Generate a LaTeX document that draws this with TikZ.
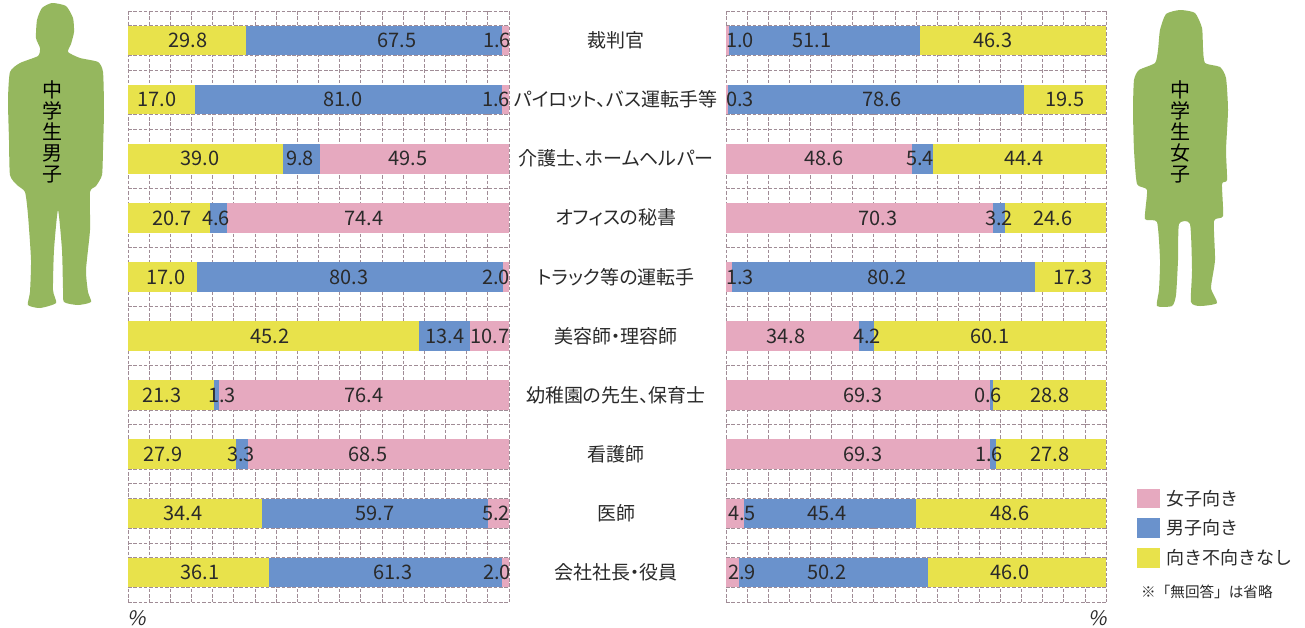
\documentclass[tikz,border=0pt]{standalone}
\usepackage{fontspec}
\setmainfont{Noto Sans CJK JP}
\newfontfamily\pctfont{Noto Sans CJK JP}[FakeSlant=0.2]
\newfontfamily\jobfont{Noto Sans CJK JP}[RawFeature=+palt]
\definecolor{cpink}{HTML}{E6A9BF}
\definecolor{cblue}{HTML}{6A92CC}
\definecolor{cyel}{HTML}{E8E24B}
\definecolor{cgreen}{HTML}{95B75E}
\definecolor{cgrid}{HTML}{A08C96}
\definecolor{ctext}{HTML}{2A2A2A}
\tikzset{
  gridline/.style={draw=cgrid, line width=0.7pt, dash pattern=on 3.5pt off 1.8pt},
  val/.style={font=\fontsize{20}{20}\selectfont, text=ctext, inner sep=0pt, anchor=base},
  job/.style={font=\jobfont\fontsize{19}{19}\selectfont, text=ctext, inner sep=0pt, anchor=base},
  legtext/.style={font=\fontsize{18}{18}\selectfont, text=ctext, inner sep=0pt, anchor=base west},
  vtext/.style={font=\fontsize{20}{21}\selectfont, text=black, inner sep=0pt, align=center},
  silhouette/.style={fill=cgreen, draw=none},
}
\begin{document}
\begin{tikzpicture}[x=1pt,y=-1pt]
\useasboundingbox[fill=white] (0,0) rectangle (1305,627);

% silhouettes
\fill[silhouette] plot[smooth cycle, tension=0.35] coordinates {
 (52,3) (66,6) (73,18) (74,32) (71,44) (68,52) (80,58) (98,62) (103,72) (104,110)
 (103,150) (102,175) (96,186) (90,192) (90,230) (86,270) (88,292) (91,302) (78,305)
 (64,302) (63,288) (62,250) (58,210) (54,250) (53,290) (56,303) (40,308) (28,305)
 (30,292) (31,260) (28,215) (25,192) (17,185) (10,175) (9,140) (8,100) (10,72)
 (20,63) (38,56) (40,48) (36,38) (37,20) (42,8)};
\node[vtext] (boys) at (52,132) {中\\学\\生\\男\\子};

\fill[silhouette] plot[smooth cycle, tension=0.35] coordinates {
 (1180,10) (1195,13) (1202,28) (1203,48) (1205,63) (1220,67) (1226,78) (1228,110)
 (1226,150) (1227,180) (1222,184) (1223,216) (1214,221) (1215,260) (1211,288)
 (1217,303) (1200,306) (1191,302) (1192,270) (1190,224) (1179,224) (1178,260)
 (1176,295) (1172,306) (1157,306) (1159,290) (1160,260) (1157,222) (1145,219)
 (1147,190) (1137,184) (1134,150) (1133,110) (1134,80) (1139,70) (1155,63)
 (1158,50) (1160,30) (1166,14)};
\node[vtext] (girls) at (1180,132) {中\\学\\生\\女\\子};

% grids
\foreach \xo/\w in {128/381, 726/380} {
  \foreach \i in {0,...,18}
    \draw[gridline] ({\xo+\i*\w/18},11) -- ++(0,591);
  \foreach \j in {0,...,40}
    \draw[gridline] (\xo,{11+\j*14.775}) -- ++(\w,0);
}

% left bars (boys): yellow, blue, pink
\foreach \k/\a/\b in {0/246/502,1/195/502,2/283/320,3/210/227,4/197/503,
                      5/419/470,6/214/219,7/236/248,8/262/488,9/269/502} {
  \pgfmathsetmacro{\yt}{11+(4*\k+1)*14.775}
  \pgfmathsetmacro{\yb}{11+(4*\k+3)*14.775}
  \fill[cyel] (128,\yt) rectangle (\a,\yb);
  \fill[cblue] (\a,\yt) rectangle (\b,\yb);
  \fill[cpink] (\b,\yt) rectangle (509,\yb);
}
% right bars (girls): pink, blue, yellow
\foreach \k/\a/\b in {0/729/920,1/727.5/1024,2/912/933,3/993/1005,4/732/1035,
                      5/859/874,6/990/992.5,7/990/996,8/744/916,9/739/928} {
  \pgfmathsetmacro{\yt}{11+(4*\k+1)*14.775}
  \pgfmathsetmacro{\yb}{11+(4*\k+3)*14.775}
  \fill[cpink] (726,\yt) rectangle (\a,\yb);
  \fill[cblue] (\a,\yt) rectangle (\b,\yb);
  \fill[cyel] (\b,\yt) rectangle (1106,\yb);
}

% left values
\foreach \k/\pa/\ta/\pb/\tb/\pc/\tc in {
 0/188/29.8/397/67.5/497/1.6,
 1/157/17.0/343/81.0/496/1.6,
 2/200/39.0/300/9.8/408/49.5,
 3/172/20.7/216/4.6/364/74.4,
 4/166/17.0/349/80.3/496/2.0,
 5/270/45.2/445/13.4/490/10.7,
 6/162/21.3/222/1.3/364/76.4,
 7/163/27.9/241/3.3/368/68.5,
 8/183/34.4/375/59.7/496/5.2,
 9/200/36.1/393/61.3/497/2.0} {
  \pgfmathsetmacro{\yc}{11+(4*\k+2)*14.775+7.2}
  \node[val] (ly\k) at (\pa,\yc) {\ta};
  \node[val] (lb\k) at (\pb,\yc) {\tb};
  \node[val] (lp\k) at (\pc,\yc) {\tc};
}
% right values
\foreach \k/\pa/\ta/\pb/\tb/\pc/\tc in {
 0/740/1.0/812/51.1/993/46.3,
 1/740/0.3/882/78.6/1065/19.5,
 2/824/48.6/920/5.4/1024/44.4,
 3/878/70.3/999/3.2/1053/24.6,
 4/740/1.3/887/80.2/1073/17.3,
 5/786/34.8/867/4.2/990/60.1,
 6/863/69.3/988/0.6/1050/28.8,
 7/863/69.3/989/1.6/1050/27.8,
 8/742/4.5/827/45.4/1010/48.6,
 9/742/2.9/827/50.2/1010/46.0} {
  \pgfmathsetmacro{\yc}{11+(4*\k+2)*14.775+7.2}
  \node[val] (rp\k) at (\pa,\yc) {\ta};
  \node[val] (rb\k) at (\pb,\yc) {\tb};
  \node[val] (ry\k) at (\pc,\yc) {\tc};
}

% job labels
\foreach \k/\t in {0/裁判官, 1/パイロット、バス運転手等, 2/介護士、ホームヘルパー,
  3/オフィスの秘書, 4/トラック等の運転手, 5/美容師・理容師, 6/幼稚園の先生、保育士,
  7/看護師, 8/医師, 9/会社社長・役員} {
  \pgfmathsetmacro{\yc}{11+(4*\k+2)*14.775+7.1}
  \node[job] (job\k) at (616,\yc) {\t};
}

% percent signs
\node[val, font=\pctfont\fontsize{20}{20}\selectfont] (pctl) at (137,625) {\%};
\node[val, font=\pctfont\fontsize{20}{20}\selectfont] (pctr) at (1098,625) {\%};

% legend
\fill[cpink] (1137,489) rectangle (1160,508);
\fill[cblue] (1137,518) rectangle (1160,538);
\fill[cyel] (1137,548) rectangle (1160,568);
\node[legtext] (lg1) at (1166,505) {女子向き};
\node[legtext] (lg2) at (1166,534.5) {男子向き};
\node[legtext] (lg3) at (1166,564.5) {向き不向きなし};
\node[legtext, font=\fontsize{14.6}{15}\selectfont] (lg4) at (1141,597.5) {※「無回答」は省略};
\end{tikzpicture}
\end{document}
